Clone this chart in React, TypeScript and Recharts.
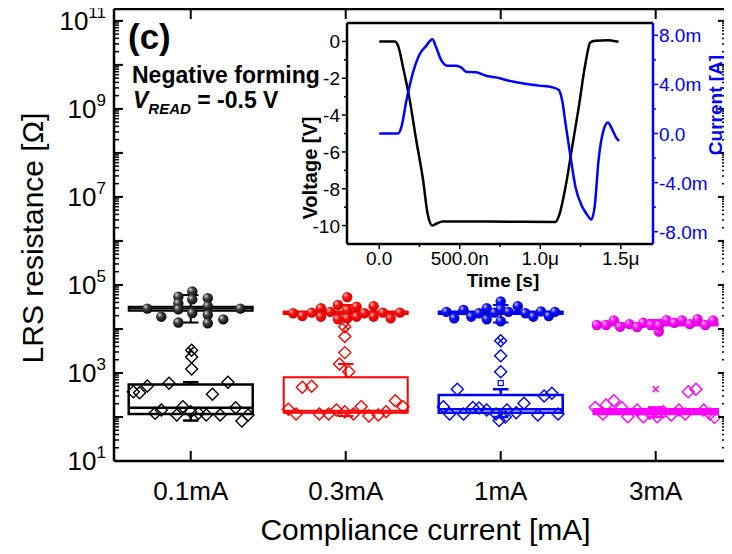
import React from "react";
import {
  ScatterChart,
  Scatter,
  LineChart,
  Line,
  XAxis,
  YAxis,
  ReferenceArea,
  ReferenceLine,
} from "recharts";

const FONT = "'Liberation Sans', Arial, sans-serif";

const categories = ["0.1mA", "0.3mA", "1mA", "3mA"];
const colors = ["#000000", "#ff0000", "#0000ff", "#ff00ff"];

// LRS (spheres): jitter offset around the category, value in ohm
const sph01X = [-0.28, -0.19, -0.08, -0.08, -0.08, -0.08, 0.01, 0.01, 0.01, 0.11, 0.11, 0.11, 0.11, 0.21, 0.32];
const sph01Y = [2.9e4, 1.9e4, 5.4e4, 3.8e4, 2.8e4, 1.4e4, 7.1e4, 4.7e4, 2.3e4, 5.0e4, 3.3e4, 2.1e4, 1.35e4, 1.65e4, 2.9e4];
const sph03X = [-0.34, -0.28, -0.22, -0.16, -0.16, -0.1, -0.05, -0.05, 0.01, 0.01, 0.01, 0.07, 0.07, 0.12, 0.18, 0.18, 0.24, 0.29, 0.35];
const sph03Y = [2.28e4, 1.97e4, 2.35e4, 2.95e4, 1.9e4, 2.45e4, 3.5e4, 1.66e4, 5.3e4, 2.7e4, 1.75e4, 3.2e4, 1.9e4, 2.28e4, 3.3e4, 1.9e4, 2.35e4, 1.75e4, 2.35e4];
const sph1X = [-0.35, -0.3, -0.24, -0.19, -0.14, -0.09, -0.09, -0.04, 0, 0, 0, 0.05, 0.11, 0.16, 0.21, 0.26, 0.31, 0.35];
const sph1Y = [2.45e4, 1.75e4, 2.7e4, 1.9e4, 2.28e4, 2.95e4, 1.66e4, 2.35e4, 4.2e4, 2.8e4, 1.5e4, 2.45e4, 3.3e4, 2.28e4, 1.9e4, 2.5e4, 1.97e4, 2.45e4];
const sph3X = [-0.38, -0.32, -0.27, -0.23, -0.17, -0.12, -0.08, -0.03, 0.02, 0.02, 0.07, 0.12, 0.17, 0.22, 0.27, 0.32, 0.37];
const sph3Y = [1.23e4, 1.23e4, 1.56e4, 1.12e4, 1.29e4, 1.1e4, 1.38e4, 1.23e4, 8.7e3, 1.2e4, 1.59e4, 1.38e4, 1.56e4, 1.29e4, 1.66e4, 1.23e4, 1.56e4];

// second read (open diamonds)
const dia01X = [0.006, 0.006, 0.006, -0.37, -0.33, -0.28, -0.14, 0.24, 0.14, -0.23, -0.19, -0.09, -0.05, 0, 0.05, 0.1, 0.19, 0.29, 0.33, 0.37];
const dia01Y = [3300, 2300, 1230, 376, 357, 503, 585, 617, 330, 121, 144, 111, 171, 132, 121, 111, 111, 163, 81, 111];
const dia03X = [-0.006, -0.006, -0.006, -0.04, 0.02, -0.28, -0.22, 0.32, 0.37, -0.37, -0.32, -0.17, -0.11, -0.06, -0.006, 0.05, 0.1, 0.15, 0.21, 0.26];
const dia03Y = [1.12e4, 6700, 2900, 1600, 1070, 473, 500, 234, 171, 150, 117, 117, 117, 144, 132, 117, 172, 105, 111, 132];
const dia1X = [0, 0, 0, -0.28, 0.28, 0.33, 0.15, -0.37, -0.33, -0.24, -0.18, -0.14, -0.09, -0.03, 0.04, 0.1, 0.24, 0.37, -0.01, 0.03];
const dia1Y = [5400, 2450, 1070, 427, 300, 345, 205, 171, 117, 117, 165, 160, 144, 117, 144, 125, 111, 117, 83, 100];
const dia3X = [-0.27, -0.32, 0.21, 0.26, -0.39, -0.34, -0.22, -0.18, -0.12, -0.08, -0.04, 0.01, 0.05, 0.1, 0.15, 0.19, 0.31, 0.35, 0.38];
const dia3Y = [234, 187, 376, 427, 165, 117, 165, 101, 144, 101, 122, 101, 132, 111, 144, 117, 144, 117, 98];

// box statistics per category
const sphLo = [1.4e4, 1.7e4, 1.4e4, 1.0e4];
const sphQ1 = [2.6e4, 2.2e4, 2.2e4, 1.2e4];
const sphMed = [2.9e4, 2.35e4, 2.3e4, 1.25e4];
const sphQ3 = [3.2e4, 2.5e4, 2.5e4, 1.35e4];
const sphHi = [5.9e4, 3.5e4, 3.5e4, 1.6e4];

const diaLo = [83, 105, 100, 100];
const diaQ1 = [117, 125, 125, 117];
const diaMed = [163, 139, 150, 130];
const diaQ3 = [550, 800, 316, 150];
const diaHi = [617, 1600, 427, 165];
const diaMax = [3300, 11200, 5400, 427];
const diaMean = [null, null, 590, null];

// inset: pulse waveform
const voltT = [0, 0.097, 0.117, 0.148, 0.19, 0.23, 0.272, 0.3, 0.33, 0.354, 0.395, 0.683, 1.095, 1.115, 1.157, 1.198, 1.239, 1.28, 1.311, 1.342, 1.424, 1.486];
const voltV = [0, 0, -0.23, -1.4, -3.2, -5.37, -7.5, -9.33, -10.0, -9.9, -9.78, -9.78, -9.8, -9.5, -7.9, -5.73, -3.57, -1.22, -0.05, 0.03, 0.07, -0.02];
const curT = [0, 0.117, 0.138, 0.169, 0.21, 0.251, 0.292, 0.33, 0.354, 0.385, 0.426, 0.478, 0.508, 0.54, 0.601, 0.663, 0.725, 0.787, 0.889, 0.992, 1.074, 1.115, 1.136, 1.157, 1.188, 1.218, 1.259, 1.29, 1.317, 1.338, 1.362, 1.393, 1.42, 1.444, 1.475, 1.49];
const curI = [0, 0, 0.54, 2.69, 4.98, 6.46, 7.14, 7.68, 7.0, 5.98, 5.52, 5.52, 5.38, 5.03, 4.98, 4.71, 4.57, 4.36, 4.09, 3.9, 3.77, 3.55, 2.69, 0.81, -1.89, -4.31, -5.93, -6.6, -7.0, -5.93, -2.16, 0.27, 0.89, 0.4, -0.4, -0.6];

const timeTicks = [0, 0.25, 0.5, 0.75, 1, 1.25, 1.5];
const timeLabels: Record<string, string> = { "0": "0.0", "0.5": "500.0n", "1": "1.0\u03bc", "1.5": "1.5\u03bc" };
const voltTicks = [0, -1, -2, -3, -4, -5, -6, -7, -8, -9, -10];
const curTicks = [8, 6, 4, 2, 0, -2, -4, -6, -8];

const yTicks: number[] = [];
for (let e = 1; e <= 10; e++) for (let m = 1; m <= 9; m++) yTicks.push(m * Math.pow(10, e));
yTicks.push(1e11);

const Y_MAX = 1.86e11;
const X_MIN = 0.505;
const X_MAX = 4.46;
const PW = 613;
const PH = 452;

const sphX = [sph01X, sph03X, sph1X, sph3X];
const sphY = [sph01Y, sph03Y, sph1Y, sph3Y];
const diaX = [dia01X, dia03X, dia1X, dia3X];
const diaY = [dia01Y, dia03Y, dia1Y, dia3Y];
const grads = ["gK", "gR", "gB", "gM"];

const YTick = (p: any) => {
  const v = p.payload.value;
  const lg = Math.log10(v);
  const e = Math.round(lg);
  const major = Math.abs(lg - e) < 1e-6;
  const len = major ? 9 : 5;
  return (
    <g>
      <line x1={p.x} x2={p.x + len} y1={p.y} y2={p.y} stroke="#000" strokeWidth={major ? 2 : 1.5} />
      <line x1={p.x + PW} x2={p.x + PW - len} y1={p.y} y2={p.y} stroke="#000" strokeWidth={major ? 2 : 1.5} />
      {major && e % 2 === 1 && (
        <text x={p.x - 8} y={p.y + 9} textAnchor="end" fontSize={26} fontFamily={FONT} fill="#000">
          10<tspan dy={-12} fontSize={17}>{e}</tspan>
        </text>
      )}
    </g>
  );
};

const XTick = (p: any) => {
  const v = p.payload.value;
  return (
    <g>
      <line x1={p.x} x2={p.x} y1={p.y} y2={p.y - 10} stroke="#000" strokeWidth={2} />
      <line x1={p.x} x2={p.x} y1={p.y - PH} y2={p.y - PH + 10} stroke="#000" strokeWidth={2} />
      <text x={p.x} y={p.y + 39} textAnchor="middle" fontSize={26} fontFamily={FONT} fill="#000">
        {categories[v - 1]}
      </text>
    </g>
  );
};

const YTitle = (p: any) => {
  const vb = p.viewBox;
  const cx = vb.x + 24;
  const cy = vb.y + vb.height / 2 + 3;
  return (
    <text x={cx} y={cy} transform={`rotate(-90 ${cx} ${cy})`} textAnchor="middle" dominantBaseline="central" fontSize={30} fontFamily={FONT} fill="#000">
      LRS resistance [&Omega;]
    </text>
  );
};

const TTick = (p: any) => {
  const v = p.payload.value;
  const lab = timeLabels[String(v)];
  return (
    <g>
      <line x1={p.x} x2={p.x} y1={p.y} y2={p.y + (lab ? 5 : 3)} stroke="#000" strokeWidth={1.5} />
      {lab && (
        <text x={p.x} y={p.y + 21} textAnchor="middle" fontSize={19} fontFamily={FONT} fill="#000">
          {lab}
        </text>
      )}
    </g>
  );
};

const VTick = (p: any) => {
  const v = p.payload.value;
  const major = v % 2 === 0;
  return (
    <g>
      <line x1={p.x} x2={p.x - (major ? 5 : 3)} y1={p.y} y2={p.y} stroke="#000" strokeWidth={1.5} />
      {major && (
        <text x={p.x - 7} y={p.y + 7} textAnchor="end" fontSize={19} fontFamily={FONT} fill="#000">
          {v}
        </text>
      )}
    </g>
  );
};

const ITick = (p: any) => {
  const v = p.payload.value;
  const major = v % 4 === 0;
  return (
    <g>
      <line x1={p.x} x2={p.x + (major ? 5 : 3)} y1={p.y} y2={p.y} stroke="#0000ff" strokeWidth={1.5} />
      {major && (
        <text x={p.x + 6} y={p.y + 7} textAnchor="start" fontSize={19} fontFamily={FONT} fill="#0000ff">
          {v === 0 ? "0.0" : `${v.toFixed(1)}m`}
        </text>
      )}
    </g>
  );
};

const sphere = (grad: string) => (p: any) => <circle cx={p.cx} cy={p.cy} r={5.2} fill={`url(#${grad})`} />;
const diamond = (color: string) => (p: any) => (
  <polygon
    points={`${p.cx},${p.cy - 6} ${p.cx + 6},${p.cy} ${p.cx},${p.cy + 6} ${p.cx - 6},${p.cy}`}
    fill="none"
    stroke={color}
    strokeWidth={1.4}
  />
);
const cross = (color: string) => (p: any) => (
  <path d={`M${p.cx - 3},${p.cy - 3}L${p.cx + 3},${p.cy + 3}M${p.cx + 3},${p.cy - 3}L${p.cx - 3},${p.cy + 3}`} stroke={color} strokeWidth={1.5} />
);
const square = (color: string) => (p: any) => (
  <rect x={p.cx - 2.5} y={p.cy - 2.5} width={5} height={5} fill="none" stroke={color} strokeWidth={1.2} />
);

function boxPlot(key: string, c: number, lo: number, q1: number, med: number, q3: number, hi: number, color: string, sw: number, filled: boolean) {
  const hw = 0.4;
  const cw = 0.05;
  return [
    <ReferenceLine key={key + "w1"} segment={[{ x: c, y: lo }, { x: c, y: q1 }]} stroke={color} strokeWidth={sw} />,
    <ReferenceLine key={key + "w2"} segment={[{ x: c, y: q3 }, { x: c, y: hi }]} stroke={color} strokeWidth={sw} />,
    <ReferenceLine key={key + "c1"} segment={[{ x: c - cw, y: lo }, { x: c + cw, y: lo }]} stroke={color} strokeWidth={sw} />,
    <ReferenceLine key={key + "c2"} segment={[{ x: c - cw, y: hi }, { x: c + cw, y: hi }]} stroke={color} strokeWidth={sw} />,
    <ReferenceArea key={key + "b"} x1={c - hw} x2={c + hw} y1={q1} y2={q3} fill={filled ? color : "none"} fillOpacity={1} stroke={color} strokeWidth={sw} />,
    <ReferenceLine key={key + "m"} segment={[{ x: c - hw, y: med }, { x: c + hw, y: med }]} stroke={color} strokeWidth={sw} />,
  ];
}

function Inset() {
  const voltData = voltT.map((t, i) => ({ t, v: voltV[i] }));
  const curData = curT.map((t, i) => ({ t, i: curI[i] }));
  return (
    <LineChart width={440} height={290} margin={{ top: 15, right: 0, bottom: 0, left: 0 }}>
      <XAxis
        type="number"
        dataKey="t"
        domain={[-0.2, 1.7]}
        allowDataOverflow
        ticks={timeTicks}
        interval={0}
        tick={<TTick />}
        tickLine={false}
        tickSize={0}
        tickMargin={0}
        height={54}
        axisLine={{ stroke: "#000", strokeWidth: 2.5 }}
      />
      <YAxis
        yAxisId="v"
        type="number"
        domain={[-11, 1]}
        allowDataOverflow
        ticks={voltTicks}
        interval={0}
        tick={<VTick />}
        tickLine={false}
        tickSize={0}
        tickMargin={0}
        width={57}
        axisLine={{ stroke: "#000", strokeWidth: 2.5 }}
      />
      <YAxis
        yAxisId="i"
        orientation="right"
        type="number"
        domain={[-9, 9]}
        allowDataOverflow
        ticks={curTicks}
        interval={0}
        tick={<ITick />}
        tickLine={false}
        tickSize={0}
        tickMargin={0}
        width={77}
        axisLine={{ stroke: "#0000ff", strokeWidth: 2.5 }}
      />
      <ReferenceLine yAxisId="v" y={1} stroke="#000" strokeWidth={2.5} />
      <Line yAxisId="v" data={voltData} dataKey="v" type="monotone" stroke="#000" strokeWidth={2.5} dot={false} isAnimationActive={false} />
      <Line yAxisId="i" data={curData} dataKey="i" type="monotone" stroke="#0000ff" strokeWidth={2.5} dot={false} isAnimationActive={false} />
      <text x={20} y={160} transform="rotate(-90 20 160)" textAnchor="middle" dominantBaseline="central" fontSize={20} fontWeight="bold" fontFamily={FONT} fill="#000">
        Voltage [V]
      </text>
      <text x={425} y={97} transform="rotate(-90 425 97)" textAnchor="middle" dominantBaseline="central" fontSize={19} fontWeight="bold" fontFamily={FONT} fill="#0000ff">
        Current [A]
      </text>
      <text x={213} y={279} textAnchor="middle" fontSize={19} fontWeight="bold" fontFamily={FONT} fill="#000">
        Time [s]
      </text>
    </LineChart>
  );
}

export default function App() {
  return (
    <div style={{ position: "relative", top: -8, width: 724, height: 554, fontFamily: FONT }}>
      <ScatterChart width={724} height={554} margin={{ top: 9, right: 5, bottom: 0, left: 0 }}>
        <defs>
          {[
            ["gK", "#d8d8d8", "#404040", "#000000"],
            ["gR", "#ffc8c8", "#ff1010", "#c80000"],
            ["gB", "#c8c8ff", "#1010ff", "#0000b8"],
            ["gM", "#ffc8ff", "#ff10ff", "#c800c8"],
          ].map(([id, a, b, c]) => (
            <radialGradient key={id} id={id} cx="0.4" cy="0.4" r="0.65" fx="0.32" fy="0.3">
              <stop offset="0" stopColor={a} />
              <stop offset="0.4" stopColor={b} />
              <stop offset="1" stopColor={c} />
            </radialGradient>
          ))}
        </defs>
        <XAxis
          type="number"
          dataKey="x"
          domain={[X_MIN, X_MAX]}
          allowDataOverflow
          ticks={[1, 2, 3, 4]}
          interval={0}
          tick={<XTick />}
          tickLine={false}
          tickSize={0}
          tickMargin={0}
          height={93}
          axisLine={{ stroke: "#000", strokeWidth: 2.5 }}
          label={{ value: "Compliance current [mA]", position: "insideBottom", offset: 14, fontSize: 30, fill: "#000", fontFamily: FONT, dx: 5 }}
        />
        <YAxis
          type="number"
          dataKey="y"
          scale="log"
          domain={[10, Y_MAX]}
          allowDataOverflow
          ticks={yTicks}
          interval={0}
          tick={<YTick />}
          tickLine={false}
          tickSize={0}
          tickMargin={0}
          width={106}
          axisLine={{ stroke: "#000", strokeWidth: 2.5 }}
          label={<YTitle />}
        />
        <ReferenceLine y={Y_MAX} stroke="#000" strokeWidth={2.5} />
        <ReferenceLine x={X_MAX} stroke="#000" strokeWidth={2.5} />
        {categories.map((_, i) =>
          boxPlot("d" + i, i + 1, diaLo[i], diaQ1[i], diaMed[i], diaQ3[i], diaHi[i], colors[i], i === 1 ? 2 : 2.5, i === 3)
        )}
        {categories.map((_, i) =>
          boxPlot("s" + i, i + 1, sphLo[i], sphQ1[i], sphMed[i], sphQ3[i], sphHi[i], colors[i], 2, false)
        )}
        {categories.map((_, i) => (
          <Scatter
            key={"dia" + i}
            data={diaX[i].map((o, k) => ({ x: i + 1 + o, y: diaY[i][k] }))}
            shape={diamond(colors[i])}
            isAnimationActive={false}
          />
        ))}
        {categories.map((_, i) => (
          <Scatter
            key={"max" + i}
            data={[{ x: i + 1, y: diaMax[i] }]}
            shape={cross(colors[i])}
            isAnimationActive={false}
          />
        ))}
        {categories.map((_, i) =>
          diaMean[i] ? (
            <Scatter
              key={"mean" + i}
              data={[{ x: i + 1, y: diaMean[i] }]}
              shape={square(colors[i])}
              isAnimationActive={false}
            />
          ) : null
        )}
        {categories.map((_, i) => (
          <Scatter
            key={"sph" + i}
            data={sphX[i].map((o, k) => ({ x: i + 1 + o, y: sphY[i][k] }))}
            shape={sphere(grads[i])}
            isAnimationActive={false}
          />
        ))}
        <text x={120} y={49} fontSize={35} fontWeight="bold" fontFamily={FONT} fill="#000">
          (c)
        </text>
        <text x={124} y={83} fontSize={23} fontWeight="bold" fontFamily={FONT} fill="#000">
          Negative forming
        </text>
        <text x={125} y={108} fontSize={23} fontWeight="bold" fontFamily={FONT} fill="#000">
          <tspan fontStyle="italic">V</tspan>
          <tspan fontStyle="italic" fontSize={15} dy={6}>READ</tspan>
          <tspan dy={-6}> = -0.5 V</tspan>
        </text>
      </ScatterChart>
      <div style={{ position: "absolute", left: 282, top: 8 }}>
        <Inset />
      </div>
    </div>
  );
}
